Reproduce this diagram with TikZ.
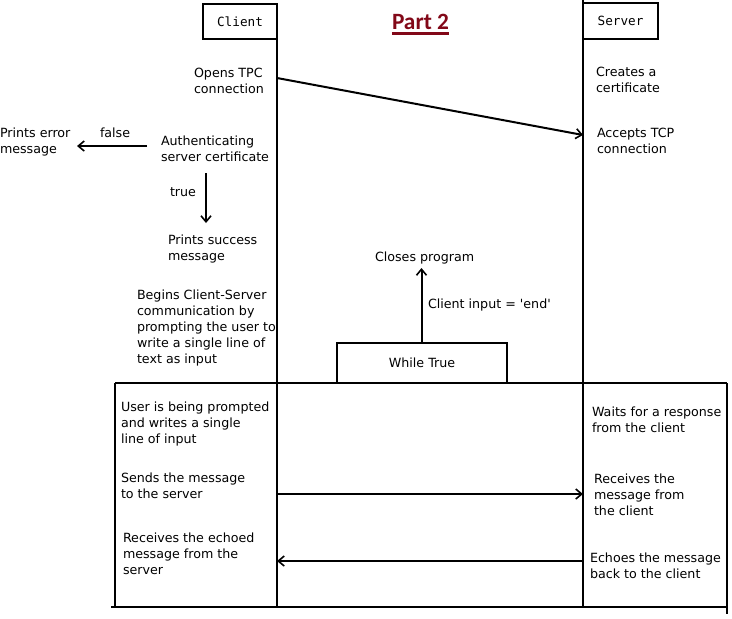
\documentclass[tikz,border=0pt]{standalone}
\usepackage{fontspec}
\setmainfont{DejaVu Sans}
\newfontfamily\monof{DejaVu Sans Mono}
\newfontfamily\titlef{Carlito}
\usetikzlibrary{arrows.meta}
\definecolor{titlered}{RGB}{130,8,24}
\begin{document}
\begin{tikzpicture}[x=0.75pt,y=-0.75pt,
  lbl/.style={anchor=north west, inner sep=0pt, outer sep=0pt, align=left, font=\fontsize{9.5}{12}\selectfont},
  box/.style={draw, line width=1.5pt, inner sep=0pt, outer sep=0pt},
  ln/.style={line width=1.5pt},
  arr/.style={line width=1.5pt, -{Straight Barb[length=4.5pt,width=7.5pt,line width=1.2pt]}}]
\useasboundingbox (0,0) rectangle (732,618);

% headers
\node[box, font=\monof\fontsize{9.5}{12}\selectfont, minimum width=55.5pt, minimum height=26.25pt] (client) at (240,21.5) {Client};
\node[box, font=\monof\fontsize{9.5}{12}\selectfont, minimum width=56.25pt, minimum height=27pt] (server) at (620.5,21) {Server};
\node[anchor=base, inner sep=0pt, text=titlered, font=\titlef\bfseries\fontsize{17.5}{20}\selectfont] (p2) at (420.5,29) {Part 2};
\draw[titlered, line width=1.8pt] ([yshift=-3.3pt]p2.base west) -- ([yshift=-3.3pt]p2.base east);

% lifelines
\coordinate (cbot) at (277,607);
\coordinate (stop) at (583,0);
\coordinate (sbot) at (583,607);
\draw[ln] (client.south east) -- (cbot);
\draw[ln] (stop) -- (sbot);

% texts before loop
\node[lbl] (opens) at (194,68) {Opens TPC\\connection};
\node[lbl] (creates) at (596,67) {Creates a\\certificate};
\node[lbl] (accepts) at (597,128) {Accepts TCP\\connection};
\node[lbl] (auth) at (161,136) {Authenticating\\server certificate};
\node[lbl] (err) at (0,128) {Prints error\\message};
\node[lbl] (false) at (100,128) {false};
\node[lbl] (true) at (170,188) {true};
\node[lbl] (succ) at (168,235) {Prints success\\message};
\node[lbl] (begins) at (137,290) {Begins Client-Server\\communication by\\prompting the user to\\write a single line of\\text as input};
\node[lbl] (closes) at (375,252) {Closes program};
\node[lbl] (cinput) at (428,299) {Client input = \textquotesingle end\textquotesingle};

% connectors before loop
\coordinate (c1) at (277,78);
\coordinate (s1) at (583,135);
\draw[arr] (c1) -- (s1);
\coordinate (f1) at (147,146);
\coordinate (f2) at (77,146);
\draw[arr] (f1) -- (f2);
\coordinate (t1) at (206,173);
\coordinate (t2) at (206,223);
\draw[arr] (t1) -- (t2);

% while box
\node[box, font=\fontsize{9.5}{12}\selectfont, minimum width=127.5pt, minimum height=30pt] (wt) at (422,363) {While True};
\coordinate (w1) at (421.5,343);
\coordinate (w2) at (421.5,268);
\draw[arr] (w1) -- (w2);

% loop frame
\coordinate (L1) at (115,383);
\coordinate (L2) at (727,383);
\coordinate (L3) at (115,607);
\coordinate (L4) at (111,607);
\coordinate (L5) at (728,607);
\coordinate (L6) at (727,614);
\draw[ln] (L1) -- (L2);
\draw[ln] (L1) -- (L3);
\draw[ln] (L4) -- (L5);
\draw[ln] (L2) -- (L6);

% loop texts
\node[lbl] (user) at (121,402) {User is being prompted\\and writes a single\\line of input};
\node[lbl] (waits) at (592,407) {Waits for a response\\from the client};
\node[lbl] (sends) at (121,473) {Sends the message\\to the server};
\node[lbl] (recv) at (594,474) {Receives the\\message from\\the client};
\node[lbl] (recvecho) at (123,533) {Receives the echoed\\message from the\\server};
\node[lbl] (echoes) at (590,553) {Echoes the message\\back to the client};

% loop connectors
\coordinate (c2) at (277,494);
\coordinate (s2) at (583,494);
\draw[arr] (c2) -- (s2);
\coordinate (s3) at (583,561);
\coordinate (c3) at (277,561);
\draw[arr] (s3) -- (c3);
\end{tikzpicture}
\end{document}
